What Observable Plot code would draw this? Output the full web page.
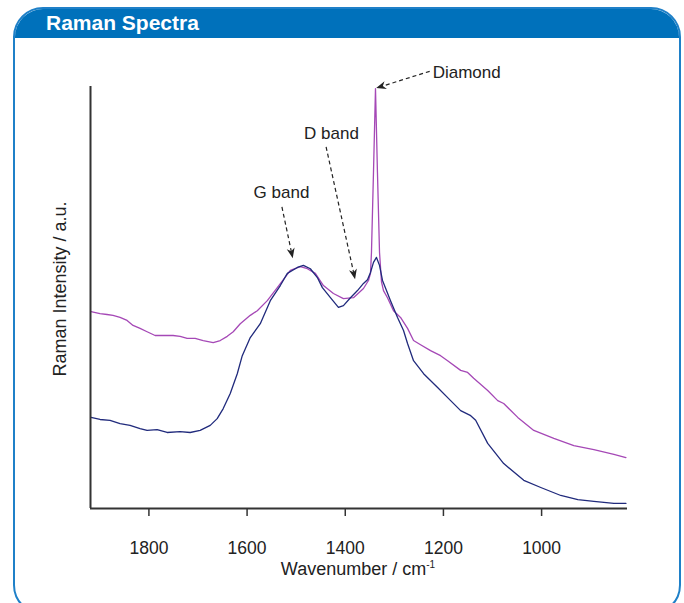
<!DOCTYPE html>
<html>
<head>
<meta charset="utf-8">
<script src="https://cdn.jsdelivr.net/npm/d3@7"></script>
<script src="https://cdn.jsdelivr.net/npm/@observablehq/plot@0.6"></script>
<style>
html, body { margin: 0; padding: 0; background: #fff; width: 684px; height: 603px; overflow: hidden;
  font-family: "Liberation Sans", Arial, Helvetica, sans-serif; }
#frame { position: absolute; left: 13px; top: 7px; width: 668px; height: 608px; box-sizing: border-box;
  border: 2px solid #1f80c8; border-radius: 30px; overflow: hidden; }
#header { position: absolute; left: 0; top: 0; right: 0; height: 29px; background: #0071bb; }
#title { position: absolute; left: 31px; top: 2px; color: #fff; font-weight: bold; font-size: 21px; line-height: 24px; }
#chart { position: absolute; left: 0; top: 0; }
.lbl { position: absolute; color: #222; font-size: 18px; white-space: nowrap; }
#xlabel { left: 358px; top: 569px; transform: translate(-50%, -50%); }
#xlabel sup { font-size: 10px; vertical-align: 7px; }
#ylabel { left: 60px; top: 289px; transform: translate(-50%, -50%) rotate(-90deg); }
</style>
</head>
<body>
<div id="frame"><div id="header"><div id="title">Raman Spectra</div></div></div>
<div id="chart"></div>
<div class="lbl" id="xlabel">Wavenumber / cm<sup>-1</sup></div>
<div class="lbl" id="ylabel">Raman Intensity / a.u.</div>
<script>
// Upper (purple) spectrum: wavenumber (cm-1) and intensity (a.u.)
const purpleWave = [1918, 1899.6, 1885.3, 1873.1, 1858.8, 1844.5, 1832.3, 1818.0, 1803.7, 1787.4, 1771.1, 1750.7, 1736.4, 1722.1, 1705.8, 1689.4, 1669.0, 1654.7, 1640.4, 1628.2, 1613.9, 1593.5, 1579.2, 1558.8, 1538.4, 1511.9, 1491.5, 1477.2, 1460.9, 1444.5, 1424.1, 1403.7, 1383.3, 1362.9, 1352.7, 1348.6, 1346.6, 1342.5, 1338.4, 1334.4, 1330.2, 1326.2, 1322.1, 1314.0, 1301.7, 1287.4, 1273.1, 1260.9, 1246.6, 1226.2, 1205.8, 1191.5, 1164.9, 1150.7, 1138.4, 1109.8, 1089.4, 1077.2, 1048.6, 1015.9, 975.1, 934.3, 893.5, 852.7, 828.2];
const purpleInt  = [46.9, 46.4, 46.2, 46.0, 45.5, 44.8, 43.6, 42.9, 42.1, 41.2, 41.2, 41.2, 41.0, 40.5, 40.5, 40.0, 39.5, 40.0, 41.0, 42.1, 44.0, 46.0, 47.1, 49.5, 52.6, 56.7, 57.6, 57.1, 56.0, 53.1, 51.2, 50.0, 50.2, 52.4, 54.3, 56.0, 61.0, 80.0, 100.0, 80.0, 61.0, 54.0, 51.9, 50.2, 47.1, 45.5, 42.9, 40.0, 39.0, 37.6, 36.4, 35.2, 32.9, 32.4, 31.0, 28.1, 25.7, 25.0, 21.7, 18.6, 16.7, 15.0, 14.0, 12.9, 12.1];

// Lower (navy) spectrum
const navyWave = [1918, 1899.6, 1879.2, 1858.8, 1838.4, 1818.0, 1803.7, 1783.3, 1762.9, 1736.4, 1716.0, 1695.6, 1675.1, 1660.9, 1648.6, 1634.3, 1620.0, 1609.8, 1593.5, 1573.1, 1552.7, 1532.3, 1518.0, 1497.6, 1485.3, 1471.1, 1456.8, 1446.6, 1430.2, 1413.9, 1403.7, 1389.4, 1375.1, 1362.9, 1354.7, 1348.6, 1342.5, 1336.4, 1330.2, 1324.1, 1316.0, 1307.8, 1293.5, 1281.3, 1273.1, 1260.9, 1240.4, 1211.9, 1185.3, 1164.9, 1144.4, 1134.3, 1109.8, 1077.2, 1036.3, 1001.7, 960.9, 926.2, 893.5, 852.7, 828.2];
const navyInt  = [21.7, 21.2, 21.0, 20.2, 19.8, 19.0, 18.6, 18.8, 18.1, 18.3, 18.1, 18.6, 19.8, 21.4, 23.8, 27.4, 32.1, 36.4, 40.7, 44.0, 49.5, 53.1, 56.0, 57.4, 57.9, 57.1, 55.0, 52.6, 50.2, 47.9, 48.3, 50.2, 51.9, 53.6, 54.5, 56.2, 58.6, 59.8, 57.9, 54.3, 51.9, 49.5, 45.5, 42.4, 39.3, 35.2, 32.1, 28.8, 25.7, 23.3, 22.1, 21.0, 15.5, 10.7, 6.7, 5.0, 3.1, 2.1, 1.7, 1.2, 1.2];

const xTicks = [1800, 1600, 1400, 1200, 1000];

// Annotations (data coordinates)
const annLabels = ["Diamond", "D band", "G band"];
const annAnchor = ["start", "middle", "middle"];
const annTextX  = [1222, 1428, 1530];
const annTextY  = [103.8, 89.3, 75.2];
const annFromX  = [1227, 1438, 1528];
const annFromY  = [104.0, 86.0, 71.7];
const annToX    = [1336, 1379, 1506];
const annToY    = [100.0, 54.5, 59.5];

const purple = purpleWave.map((w, i) => ({w, v: purpleInt[i]}));
const navy = navyWave.map((w, i) => ({w, v: navyInt[i]}));
const ann = annLabels.map((t, i) => ({t, anchor: annAnchor[i], x: annTextX[i], y: annTextY[i]}));

function arrows(index, scales) {
  const g = d3.create("svg:g");
  for (let i = 0; i < annLabels.length; i++) {
    const x1 = scales.x(annFromX[i]), y1 = scales.y(annFromY[i]);
    const x2 = scales.x(annToX[i]), y2 = scales.y(annToY[i]);
    const dx = x2 - x1, dy = y2 - y1, L = Math.hypot(dx, dy), ux = dx / L, uy = dy / L;
    const hl = 10, hw = 4;
    const bx = x2 - ux * hl, by = y2 - uy * hl;
    g.append("line").attr("x1", x1).attr("y1", y1).attr("x2", bx + ux * 3).attr("y2", by + uy * 3)
      .attr("stroke", "#222").attr("stroke-width", 1.2).attr("stroke-dasharray", "4,3");
    g.append("path")
      .attr("d", `M${x2},${y2}L${bx - uy * hw},${by + ux * hw}L${bx + ux * 3},${by + uy * 3}L${bx + uy * hw},${by - ux * hw}Z`)
      .attr("fill", "#222");
  }
  return g.node();
}

const chart = Plot.plot({
  width: 684,
  height: 603,
  marginLeft: 90,
  marginRight: 57,
  marginTop: 86,
  marginBottom: 95,
  style: {fontFamily: '"Liberation Sans", Arial, sans-serif', background: "transparent", overflow: "visible"},
  x: {domain: [1919, 825], axis: null},
  y: {domain: [0, 100.5], axis: null},
  marks: [
    Plot.line(purple, {x: "w", y: "v", stroke: "#a548b6", strokeWidth: 1.3}),
    Plot.line(navy, {x: "w", y: "v", stroke: "#202a7c", strokeWidth: 1.3}),
    Plot.ruleY([0], {stroke: "#333", strokeWidth: 2}),
    Plot.ruleX([1919], {stroke: "#333", strokeWidth: 2}),
    Plot.axisX({ticks: xTicks, tickSize: 8, tickPadding: 25, fontSize: 17.5, label: null, stroke: "#333", strokeWidth: 1.5, fill: "#222", tickFormat: d => String(d)}),
    Plot.text(ann.filter(d => d.anchor === "start"), {x: "x", y: "y", text: "t", textAnchor: "start", fontSize: 17, fill: "#222"}),
    Plot.text(ann.filter(d => d.anchor === "middle"), {x: "x", y: "y", text: "t", textAnchor: "middle", fontSize: 17, fill: "#222"}),
    arrows
  ]
});
document.getElementById("chart").appendChild(chart);
</script>
</body>
</html>
